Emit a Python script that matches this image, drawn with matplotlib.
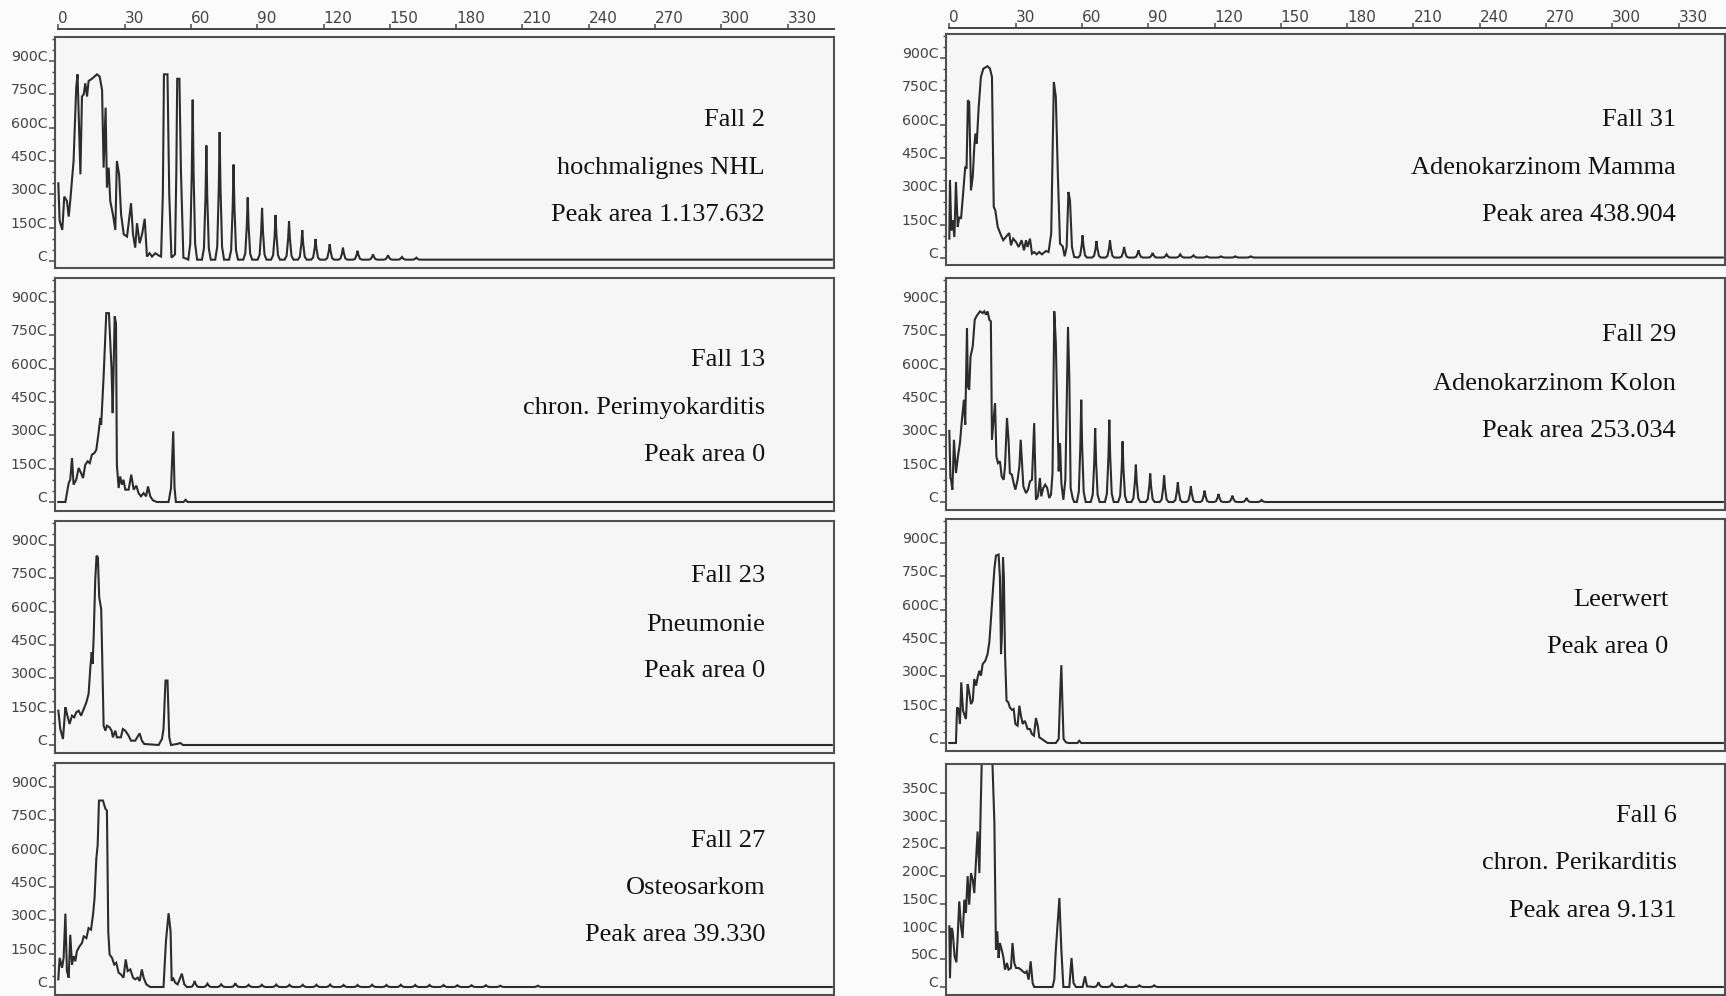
import numpy as np
import matplotlib.pyplot as plt
from matplotlib.ticker import FixedLocator, MultipleLocator

W, H = 1726, 996

top_ticks = [0, 30, 60, 90, 120, 150, 180, 210, 240, 270, 300, 330]

y9000_ticks = [0, 1500, 3000, 4500, 6000, 7500, 9000]
y9000_labels = ["C", "150C", "300C", "450C", "600C", "750C", "900C"]
y3500_ticks = [0, 500, 1000, 1500, 2000, 2500, 3000, 3500]
y3500_labels = ["C", "50C", "100C", "150C", "200C", "250C", "300C", "350C"]

# ---- Fall 2 (hochmalignes NHL) ----
fall2_x = [0, 0.6, 1.8, 2.7, 3.9, 4.7, 5.4, 6.9, 8.1, 8.7, 10.0, 10.7, 11.5, 12.2, 13.0, 13.7, 15.2, 17.5, 18.7, 19.8,
           20.5, 21.4, 22.0, 22.8, 23.5, 24.7, 25.8, 26.5, 27.5, 28.4, 29.6, 31.1, 32.9, 33.8, 34.8, 35.6, 36.8, 37.9, 39.1, 40.1,
           41.3, 42.4, 43.9, 45.4, 46.5, 47.3, 47.8, 49.4, 50.2, 51.2, 52.8, 53.4, 53.8, 54.8, 55.5, 56.6, 58.0]
fall2_y = [3500, 1800, 1400, 2900, 2700, 2000, 2700, 4500, 7800, 8400, 3900, 7400, 7500, 8000, 7400, 8100, 8200, 8400, 8300, 7700,
           4200, 6900, 3300, 4200, 2700, 2100, 1400, 4500, 3900, 2100, 1200, 1100, 2600, 1200, 600, 1700, 800, 1200, 1900, 200,
           350, 200, 350, 250, 200, 3000, 8400, 8400, 3000, 150, 300, 4000, 8200, 8200, 4000, 150, 100]
fall2_peak_x = [60.8, 67.0, 73.0, 79.3, 85.7, 92.2, 98.3, 104.4, 110.4, 116.4, 122.8, 128.8, 135.4, 142.4, 149.2, 155.5, 162.0]
fall2_peak_h = [7260, 5200, 5800, 4340, 2860, 2390, 2070, 1800, 1390, 990, 760, 600, 460, 300, 260, 180, 150]

# ---- Fall 13 (chron. Perimyokarditis) ----
fall13_x = [0, 3.2, 4.7, 5.4, 6.2, 6.9, 8.1, 9.2, 10.3, 11.2, 12.2, 13.3, 14.2, 15.2, 16.3, 17.2, 18.2, 19.0, 19.4, 20.5,
            21.7, 22.9, 24.1, 24.6, 25.5, 26.1, 26.5, 27.3, 28.0, 28.8, 29.5, 30.3, 31.8, 33.0, 34.1, 35.3, 36.3, 37.4, 38.6, 39.7,
            40.6, 41.6, 42.8, 44.6, 49.9, 51.0, 52.0, 52.6, 53.2, 56.7, 57.6, 58.5]
fall13_y = [0, 0, 855, 1000, 1980, 780, 1000, 1530, 1300, 1080, 1680, 1830, 1750, 2130, 2200, 2350, 3100, 3780, 3480, 5650,
            8500, 8500, 5950, 4000, 8350, 8050, 1680, 630, 1150, 780, 1000, 555, 555, 1230, 555, 735, 400, 255, 400, 255,
            700, 255, 75, 0, 0, 630, 3180, 630, 0, 0, 100, 0]

# ---- Fall 23 (Pneumonie) ----
fall23_x = [0, 0.9, 2.1, 3.2, 3.9, 5.1, 6.2, 7.2, 8.1, 9.2, 10.3, 11.5, 12.7, 13.7, 14.5, 15.1, 15.5, 16.0, 16.7, 17.3,
            17.9, 18.5, 19.4, 19.9, 20.5, 21.3, 22.0, 23.2, 24.1, 24.7, 25.8, 26.5, 28.3, 29.2, 30.3, 31.8, 32.9, 34.8, 36.8, 37.8,
            38.9, 45.4, 46.9, 47.6, 48.5, 49.4, 50.2, 51.0, 53.7, 55.2, 56.4]
fall23_y = [1545, 720, 270, 1700, 1400, 945, 1320, 1245, 1470, 1545, 1320, 1620, 1920, 2300, 3500, 4170, 3650, 4850, 7400, 8520,
            8450, 6650, 6120, 3800, 870, 645, 870, 795, 645, 345, 645, 345, 345, 720, 645, 420, 195, 195, 525, 195,
            45, 0, 270, 720, 2900, 2900, 345, 0, 45, 90, 0]

# ---- Fall 27 (Osteosarkom) ----
fall27_x = [0, 0.6, 1.7, 2.4, 3.2, 3.9, 4.7, 5.4, 6.2, 6.9, 7.7, 8.4, 9.6, 10.7, 11.5, 12.7, 13.7, 14.8, 15.7, 16.4,
            17.2, 17.8, 18.4, 20.2, 21.3, 22.0, 22.6, 23.2, 24.3, 25.3, 26.2, 27.3, 28.3, 29.5, 30.5, 31.4, 32.6, 33.8, 34.8, 35.9,
            36.8, 37.8, 38.6, 39.8, 41.6, 47.6, 48.7, 49.9, 50.8, 51.3, 51.9, 52.9, 54.0, 55.9, 57.0, 58.2]
fall27_y = [345, 1310, 865, 1310, 3300, 715, 420, 2350, 1010, 1390, 1160, 1610, 1830, 1980, 2280, 2200, 2650, 2580, 3250, 4000,
            5780, 6380, 8390, 8390, 8020, 7940, 2500, 1460, 1310, 1010, 1090, 640, 570, 420, 1240, 715, 790, 420, 345, 420,
            270, 790, 420, 120, 0, 0, 2060, 3320, 2500, 270, 420, 195, 120, 600, 120, 0]
fall27_peak_x = [61.7, 67.5, 73.7, 80.1, 86.1, 92.1, 98.6, 104.6, 110.6, 116.8, 123.0, 129.1, 135.4, 142.0, 148.5, 155.0,
                 161.5, 168.0, 174.3, 180.6, 187.0, 193.5, 200.0, 217.0]
fall27_peak_h = [270, 150, 120, 165, 100, 100, 110, 100, 100, 100, 110, 90, 90, 100, 90, 100, 90, 90, 90, 80, 80, 80, 60, 60]

# ---- Fall 31 (Adenokarzinom Mamma) ----
fall31_x = [0, 0.3, 0.9, 1.5, 2.3, 3.0, 3.8, 4.5, 5.3, 6.0, 7.2, 7.8, 8.4, 9.0, 9.8, 10.6, 11.3, 11.8, 12.4, 13.3,
            14.3, 15.4, 17.3, 18.4, 19.3, 20.1, 20.8, 21.9, 23.4, 24.4, 25.6, 27.1, 27.9, 28.9, 30.2, 31.4, 32.7, 33.8, 34.7, 35.4,
            36.5, 37.4, 38.4, 39.5, 40.7, 41.9, 43.7, 44.9, 46.1, 47.3, 48.2, 49.1, 50.1, 51.3, 52.2, 53.1, 53.9, 54.6, 55.5, 56.5]
fall31_y = [870, 3500, 1245, 1700, 945, 3420, 1395, 1845, 1770, 2600, 4100, 4020, 7100, 7020, 3050, 3650, 5000, 5600, 5150, 6800,
            8150, 8520, 8630, 8520, 8150, 2300, 2150, 1400, 1020, 800, 945, 1125, 570, 870, 720, 495, 800, 345, 800, 495,
            870, 195, 270, 165, 270, 165, 315, 270, 1095, 7920, 7250, 3800, 645, 525, 75, 495, 2970, 2600, 495, 45]
fall31_peak_x = [60.3, 66.6, 72.7, 79.1, 85.6, 92.0, 98.3, 104.5, 110.5, 116.5, 122.9, 129.4, 136.4]
fall31_peak_h = [1020, 765, 795, 495, 345, 225, 165, 165, 120, 75, 75, 75, 75]

# ---- Fall 29 (Adenokarzinom Kolon) ----
fall29_x = [0, 0.5, 0.8, 1.4, 2.1, 3.0, 3.9, 4.8, 5.7, 6.6, 7.2, 8.0, 8.4, 9.0, 9.6, 10.6, 11.5, 12.4, 13.9, 15.1,
            15.8, 16.6, 17.3, 18.1, 18.8, 19.3, 19.9, 20.7, 21.3, 22.0, 22.9, 23.7, 24.6, 25.2, 26.1, 26.8, 27.4, 28.3, 29.1, 29.9,
            30.9, 31.7, 32.3, 32.9, 33.5, 34.7, 35.6, 36.5, 37.4, 38.4, 39.2, 40.1, 41.0, 41.6, 42.5, 43.4, 44.3, 45.2, 46.0, 46.7,
            47.5, 48.2, 48.8, 49.5, 50.1, 50.7, 51.6, 52.5, 53.1, 53.7, 54.3, 54.9, 55.8, 56.5]
fall29_y = [3200, 1080, 1000, 555, 2800, 1300, 2050, 2650, 3700, 4600, 3480, 7830, 5200, 5050, 6550, 7000, 8200, 8380, 8580, 8500,
            8580, 8430, 8580, 8200, 8130, 2800, 3550, 4450, 2050, 1750, 1830, 1150, 1000, 1600, 3780, 2800, 1300, 1230, 855, 555,
            1000, 1600, 2800, 1750, 700, 400, 555, 930, 1000, 3550, 100, 255, 1080, 255, 630, 780, 630, 180, 330, 1300,
            8580, 7150, 4300, 1380, 2650, 855, 100, 1000, 4300, 7880, 5650, 630, 180, 0]
fall29_peak_x = [59.7, 66.0, 72.4, 78.4, 84.4, 90.9, 97.2, 103.4, 109.3, 115.5, 121.8, 128.1, 134.5, 141.3]
fall29_peak_h = [4600, 3330, 3700, 2730, 1680, 1280, 1190, 890, 700, 510, 360, 285, 180, 90]

# ---- Leerwert ----
leer_x = [0, 3.0, 3.5, 4.2, 4.8, 5.4, 6.2, 7.5, 8.3, 9.0, 9.8, 10.6, 11.3, 12.1, 12.8, 13.6, 14.3, 15.1, 16.3, 17.3,
          18.1, 18.8, 19.6, 20.4, 21.1, 22.3, 22.9, 23.4, 23.8, 24.3, 24.7, 25.2, 25.9, 26.7, 27.4, 28.3, 29.1, 29.9, 30.9, 31.7,
          32.4, 33.2, 34.1, 34.7, 35.4, 36.5, 37.4, 38.3, 39.2, 40.1, 40.7, 41.9, 43.0, 44.5, 48.2, 49.5, 50.1, 50.7, 51.1, 51.7,
          52.8, 54.0, 58.0, 58.8, 59.7]
leer_y = [0, 0, 1600, 1530, 855, 2730, 1450, 1080, 2650, 2280, 1750, 1900, 2880, 2580, 2950, 3250, 3030, 3550, 3700, 4000,
          4530, 5500, 6700, 7830, 8430, 8480, 7450, 4000, 4900, 8350, 7450, 4000, 1900, 1830, 1600, 1490, 1530, 855, 780, 1680,
          1230, 855, 1000, 855, 630, 630, 400, 330, 1125, 735, 255, 180, 100, 0, 0, 180, 2050, 3500, 2050, 180,
          30, 0, 0, 100, 0]

# ---- Fall 6 (chron. Perikarditis) ----
fall6_x = [0, 0.3, 0.9, 1.5, 2.4, 3.2, 3.8, 4.5, 5.3, 6.0, 6.8, 7.5, 8.3, 9.0, 9.8, 10.6, 11.3, 12.1, 12.8, 13.6,
           14.0, 14.8, 19.3, 20.4, 21.1, 21.7, 22.3, 22.9, 23.7, 24.4, 25.2, 26.1, 26.8, 27.9, 28.6, 29.4, 30.2, 31.4, 32.4, 33.2,
           34.2, 35.0, 35.9, 36.8, 37.7, 38.4, 46.7, 47.5, 48.2, 49.8, 50.7, 51.6, 54.3, 55.3, 56.2, 57.3, 60.3, 61.4, 62.3]
fall6_y = [1095, 160, 1065, 1005, 550, 445, 915, 1545, 1095, 885, 1575, 1335, 2000, 1485, 2055, 1935, 1695, 2295, 2805, 2055,
           2865, 4300, 4300, 2955, 673, 1005, 523, 793, 673, 553, 313, 433, 313, 343, 793, 433, 343, 343, 313, 283,
           253, 283, 132, 463, 72, 0, 0, 132, 673, 1605, 673, 0, 0, 523, 72, 0, 0, 192, 12]
fall6_peak_x = [67.5, 73.6, 79.9, 86.0, 92.7]
fall6_peak_h = [84, 60, 36, 30, 30]

texts_left = [["Fall 2", "hochmalignes NHL", "Peak area 1.137.632"],
              ["Fall 13", "chron. Perimyokarditis", "Peak area 0"],
              ["Fall 23", "Pneumonie", "Peak area 0"],
              ["Fall 27", "Osteosarkom", "Peak area 39.330"]]
texts_right = [["Fall 31", "Adenokarzinom Mamma", "Peak area 438.904"],
               ["Fall 29", "Adenokarzinom Kolon", "Peak area 253.034"],
               ["Leerwert", "Peak area 0"],
               ["Fall 6", "chron. Perikarditis", "Peak area 9.131"]]


def rect(x0, top, x1, bottom):
    return [x0 / W, 1 - bottom / H, (x1 - x0) / W, (bottom - top) / H]


def build_trace(ex, ey, px, ph, base):
    xs, ys = list(ex), list(ey)
    offs = [-2.0, -1.1, -0.4, 0.0, 0.4, 1.1, 2.0]
    frac = [0.0, 0.1, 0.55, 1.0, 0.55, 0.1, 0.0]
    for c, h in zip(px, ph):
        for o, f in zip(offs, frac):
            xs.append(c + o)
            ys.append(base + f * (h - base))
    xs.append(350)
    ys.append(base)
    return xs, ys


fig = plt.figure(figsize=(W / 100, H / 100), dpi=100)
fig.patch.set_facecolor("#fbfbfb")

XLIM = (-1.5, 351)
tick_c = "#4a4a4a"


def make_panel(box, xs, ys, small=False):
    x0, top, x1, bottom = box
    ax = fig.add_axes(rect(x0, top, x1, bottom))
    h = bottom - top
    if small:
        upp = 3500 / 194.0
        ax.set_ylim(-(h - 223) * upp, 3500 + 29 * upp)
        ax.yaxis.set_major_locator(FixedLocator(y3500_ticks))
        ax.set_yticklabels(y3500_labels)
    else:
        upp = 45.0
        ax.set_ylim(-(h - 224) * upp, 9000 + 24 * upp)
        ax.yaxis.set_major_locator(FixedLocator(y9000_ticks))
        ax.set_yticklabels(y9000_labels)
        ax.yaxis.set_minor_locator(MultipleLocator(500))
    ax.set_xlim(*XLIM)
    ax.set_facecolor("#f6f6f6")
    ax.plot(xs, ys, color="#2c2c2c", lw=1.5, solid_joinstyle="miter")
    ax.set_xticks([])
    for s in ax.spines.values():
        s.set_color("#505050")
        s.set_linewidth(1.5)
    ax.tick_params(axis="y", which="major", direction="out", length=4.5, width=1.1,
                   color=tick_c, pad=1, labelsize=10.2, labelcolor="#444444")
    ax.tick_params(axis="y", which="minor", direction="out", length=2.2, width=1.0, color=tick_c)
    for t in ax.get_yticklabels():
        t.set_va("baseline")
    return ax


def make_top_axis(x0, x1, y):
    ax = fig.add_axes(rect(x0, y - 1, x1, y))
    ax.set_xlim(*XLIM)
    ax.patch.set_visible(False)
    for k in ["left", "right", "bottom"]:
        ax.spines[k].set_visible(False)
    ax.spines["top"].set_color("#444444")
    ax.spines["top"].set_linewidth(1.4)
    ax.spines["top"].set_bounds(0, XLIM[1])
    ax.set_yticks([])
    ax.xaxis.tick_top()
    ax.set_xticks(top_ticks)
    ax.set_xticklabels([str(t) for t in top_ticks])
    ax.tick_params(axis="x", direction="out", length=3.5, width=1.1, color=tick_c,
                   pad=-1.5, labelsize=11, labelcolor="#444444")
    for t in ax.get_xticklabels():
        t.set_ha("left")


left_boxes = [(55, 37, 834, 268), (55, 278, 834, 511), (55, 521, 834, 753), (55, 763, 834, 995)]
right_boxes = [(946, 34, 1725, 265), (946, 278, 1725, 510), (946, 519, 1725, 751), (946, 764, 1725, 995)]

left_traces = [build_trace(fall2_x, fall2_y, fall2_peak_x, fall2_peak_h, 60),
               build_trace(fall13_x, fall13_y, [], [], 0),
               build_trace(fall23_x, fall23_y, [], [], 0),
               build_trace(fall27_x, fall27_y, fall27_peak_x, fall27_peak_h, 0)]
right_traces = [build_trace(fall31_x, fall31_y, fall31_peak_x, fall31_peak_h, 20),
                build_trace(fall29_x, fall29_y, fall29_peak_x, fall29_peak_h, 0),
                build_trace(leer_x, leer_y, [], [], 0),
                build_trace(fall6_x, fall6_y, fall6_peak_x, fall6_peak_h, 0)]

for i in range(4):
    make_panel(left_boxes[i], *left_traces[i])
    make_panel(right_boxes[i], *right_traces[i], small=(i == 3))

make_top_axis(55, 834, 30)
make_top_axis(946, 1725, 29)

# annotation text, baselines in pixels
left_base = [[126, 174, 221], [366, 414, 461], [582, 631, 677], [847, 894, 941]]
right_base = [[126, 174, 221], [341, 390, 437], [606, 653], [822, 869, 917]]
right_x = [1676, 1676, 1668, 1677]

for i in range(4):
    for s, yb in zip(texts_left[i], left_base[i]):
        fig.text(765 / W, 1 - yb / H, s, ha="right", va="baseline", fontsize=19,
                 family="Liberation Serif", color="#111111")
    for s, yb in zip(texts_right[i], right_base[i]):
        fig.text(right_x[i] / W, 1 - yb / H, s, ha="right", va="baseline", fontsize=19,
                 family="Liberation Serif", color="#111111")

fig.savefig("out.png", dpi=100, facecolor=fig.get_facecolor())
